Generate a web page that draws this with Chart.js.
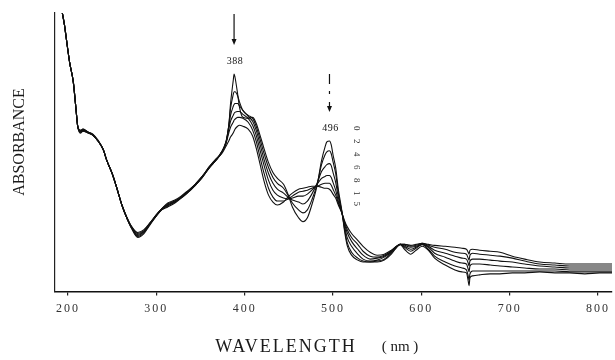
<!DOCTYPE html>
<html>
<head>
<meta charset="utf-8">
<script src="https://cdn.jsdelivr.net/npm/chart.js@4.4.1/dist/chart.umd.min.js"></script>
<style>
  html, body { margin: 0; padding: 0; background: #fff; }
  #wrap { width: 615px; height: 360px; }
</style>
</head>
<body>
<div id="wrap"><canvas id="spectrum" width="615" height="360"></canvas></div>
<script>
// Wavelength grid (nm) shared by every trace
const wavelength = [193,196,199,202,206,209,211,214,217,223,228,234,240,244,250,255,261,267,272,279,286,293,300,306,313,321,328,335,344,352,360,368,
  374,379,382,384,387,388,389,392,394,398,404,409,413,417,422,427,432,437,444,449,454,461,466,471,476,482,487,491,493,496,498,500,503,506,510,513,516,521,528,534,542,550,558,566,572,576,581,588,594,601,608,615,627,638,646,651,653,654,655,658,666,678,689,703,717,734,751,768,785,802,816];

// Absorbance traces, one per reaction time
const abs0 = [2.86,2.71,2.51,2.32,2.13,1.86,1.68,1.61,1.63,1.61,1.59,1.53,1.44,1.33,1.20,1.06,0.88,0.74,0.64,0.55,0.59,0.68,0.77,0.83,0.86,0.90,0.95,1.00,1.08,1.16,1.26,1.34,
  1.42,1.51,1.68,1.91,2.14,2.21,2.18,2.01,1.88,1.77,1.76,1.77,1.71,1.60,1.45,1.31,1.21,1.15,1.09,0.99,0.86,0.75,0.71,0.75,0.88,1.08,1.33,1.47,1.52,1.53,1.49,1.39,1.26,1.04,0.82,0.62,0.47,0.37,0.32,0.30,0.30,0.30,0.32,0.38,0.45,0.48,0.43,0.38,0.42,0.46,0.42,0.34,0.27,0.22,0.20,0.19,0.11,0.06,0.14,0.16,0.17,0.18,0.18,0.19,0.19,0.20,0.19,0.19,0.18,0.19,0.19];
const abs2 = [2.86,2.71,2.51,2.32,2.13,1.86,1.68,1.62,1.63,1.61,1.59,1.53,1.44,1.33,1.20,1.06,0.88,0.74,0.65,0.56,0.60,0.69,0.77,0.83,0.87,0.91,0.95,1.00,1.08,1.16,1.26,1.34,
  1.42,1.52,1.69,1.86,2.00,2.03,2.03,1.99,1.93,1.84,1.79,1.76,1.68,1.56,1.40,1.26,1.16,1.10,1.05,0.98,0.90,0.83,0.80,0.83,0.93,1.09,1.29,1.39,1.42,1.43,1.40,1.32,1.20,1.00,0.81,0.64,0.50,0.40,0.34,0.31,0.30,0.31,0.33,0.39,0.45,0.48,0.45,0.41,0.44,0.48,0.43,0.36,0.30,0.26,0.24,0.22,0.16,0.12,0.18,0.21,0.21,0.21,0.21,0.21,0.21,0.21,0.21,0.20,0.20,0.20,0.20];
const abs4 = [2.86,2.71,2.51,2.32,2.13,1.86,1.68,1.62,1.64,1.61,1.59,1.53,1.44,1.33,1.20,1.06,0.88,0.74,0.65,0.57,0.61,0.69,0.77,0.83,0.88,0.91,0.96,1.01,1.08,1.16,1.26,1.34,
  1.42,1.53,1.68,1.79,1.88,1.90,1.91,1.91,1.89,1.84,1.78,1.73,1.64,1.51,1.34,1.20,1.10,1.04,1.00,0.96,0.93,0.91,0.89,0.92,0.99,1.10,1.22,1.27,1.29,1.30,1.28,1.21,1.11,0.96,0.81,0.67,0.55,0.46,0.38,0.33,0.31,0.32,0.35,0.40,0.46,0.48,0.46,0.43,0.45,0.48,0.45,0.39,0.35,0.31,0.29,0.28,0.23,0.20,0.26,0.28,0.28,0.27,0.26,0.25,0.24,0.23,0.23,0.22,0.22,0.22,0.22];
const abs6 = [2.86,2.71,2.51,2.32,2.13,1.86,1.68,1.63,1.64,1.62,1.59,1.53,1.44,1.33,1.20,1.06,0.88,0.74,0.65,0.58,0.61,0.69,0.78,0.84,0.88,0.92,0.96,1.01,1.09,1.17,1.26,1.34,
  1.41,1.52,1.65,1.73,1.79,1.81,1.82,1.83,1.83,1.80,1.76,1.69,1.59,1.45,1.28,1.13,1.03,0.98,0.95,0.94,0.95,0.97,0.97,0.99,1.03,1.09,1.15,1.17,1.18,1.18,1.16,1.11,1.03,0.92,0.80,0.69,0.60,0.51,0.43,0.37,0.33,0.34,0.36,0.41,0.46,0.48,0.47,0.45,0.46,0.48,0.46,0.42,0.39,0.36,0.34,0.33,0.29,0.26,0.31,0.33,0.33,0.32,0.31,0.30,0.28,0.26,0.25,0.24,0.24,0.24,0.24];
const abs8 = [2.86,2.71,2.51,2.32,2.13,1.86,1.68,1.63,1.65,1.62,1.60,1.53,1.44,1.33,1.20,1.06,0.88,0.74,0.66,0.59,0.62,0.70,0.78,0.84,0.89,0.92,0.96,1.01,1.09,1.17,1.27,1.35,
  1.41,1.51,1.61,1.67,1.72,1.74,1.75,1.77,1.77,1.76,1.72,1.64,1.53,1.38,1.20,1.05,0.96,0.92,0.92,0.94,0.97,1.01,1.02,1.03,1.05,1.07,1.09,1.10,1.10,1.10,1.08,1.04,0.98,0.90,0.80,0.71,0.63,0.55,0.48,0.41,0.36,0.35,0.37,0.41,0.46,0.48,0.48,0.46,0.47,0.49,0.47,0.45,0.43,0.40,0.39,0.38,0.34,0.32,0.37,0.39,0.38,0.37,0.36,0.34,0.31,0.28,0.27,0.26,0.26,0.26,0.26];
const abs15 = [2.86,2.71,2.51,2.32,2.13,1.86,1.68,1.64,1.65,1.62,1.60,1.54,1.44,1.33,1.20,1.06,0.88,0.75,0.66,0.60,0.63,0.70,0.78,0.84,0.90,0.93,0.97,1.02,1.09,1.17,1.27,1.35,
  1.40,1.48,1.53,1.57,1.61,1.63,1.65,1.68,1.69,1.68,1.65,1.58,1.46,1.31,1.12,0.98,0.91,0.88,0.91,0.96,1.00,1.04,1.05,1.06,1.07,1.07,1.06,1.05,1.05,1.04,1.02,0.99,0.95,0.88,0.80,0.72,0.66,0.59,0.52,0.46,0.40,0.37,0.38,0.42,0.46,0.48,0.48,0.47,0.48,0.49,0.48,0.47,0.46,0.45,0.44,0.43,0.40,0.38,0.42,0.43,0.42,0.41,0.40,0.36,0.33,0.30,0.29,0.28,0.28,0.28,0.28];

const timeLabels = ['0', '2', '4', '6', '8', '15'];
const tickWavelengths = [200, 300, 400, 500, 600, 700, 800];
const peakWavelengths = [388, 496];

const traces = [abs0, abs2, abs4, abs6, abs8, abs15];
const SERIF = '"Liberation Serif", "DejaVu Serif", serif';

function arrowDown(ctx, x, yStart, yTip, dash) {
  ctx.lineWidth = 1.2;
  ctx.setLineDash(dash);
  ctx.beginPath();
  ctx.moveTo(x, yStart);
  ctx.lineTo(x, yTip - 5);
  ctx.stroke();
  ctx.setLineDash([]);
  ctx.beginPath();
  ctx.moveTo(x - 2.5, yTip - 6);
  ctx.lineTo(x + 2.5, yTip - 6);
  ctx.lineTo(x, yTip);
  ctx.closePath();
  ctx.fill();
}

const spectrumText = {
  id: 'spectrumText',
  beforeDraw(chart) {
    // wide spacing for the tick numbers
    chart.ctx.letterSpacing = '2px';
  },
  afterDraw(chart) {
    const ctx = chart.ctx;
    const xs = chart.scales.x, ys = chart.scales.y;
    const area = chart.chartArea;
    ctx.save();
    ctx.letterSpacing = '0px';
    ctx.fillStyle = '#111';
    ctx.strokeStyle = '#111';

    // peak markers: arrow + wavelength above the tallest trace at that wavelength
    peakWavelengths.forEach((w, k) => {
      const idx = wavelength.indexOf(w);
      const top = Math.max(...traces.map(t => t[idx]));
      const x = xs.getPixelForValue(w);
      const yPeak = ys.getPixelForValue(top);
      const yLabel = yPeak - 13;
      const yTip = yLabel - 16;
      if (k === 0) {
        arrowDown(ctx, x, area.top + 1, yTip, []);
      } else {
        arrowDown(ctx, x, yTip - 38, yTip, [10, 7, 3, 8]);
      }
      ctx.font = '10px ' + SERIF;
      ctx.letterSpacing = '0.5px';
      ctx.textAlign = 'center';
      ctx.textBaseline = 'middle';
      ctx.fillText(String(w), x + 1, yLabel);
      ctx.letterSpacing = '0px';
    });

    // reaction-time list, written downward beside the second band
    const xList = xs.getPixelForValue(peakWavelengths[1]) + 27;
    ctx.font = '9px ' + SERIF;
    ctx.fillStyle = '#333';
    let yItem = 126;
    timeLabels.forEach(lbl => {
      ctx.save();
      ctx.translate(xList, yItem);
      ctx.rotate(Math.PI / 2);
      ctx.textAlign = 'left';
      ctx.textBaseline = 'middle';
      ctx.letterSpacing = lbl.length > 1 ? '6px' : '0px';
      ctx.fillText(lbl, 0, 0);
      ctx.restore();
      yItem += 13;
    });

    // axis titles
    ctx.fillStyle = '#1a1a1a';
    ctx.save();
    ctx.translate(20, 142);
    ctx.rotate(-Math.PI / 2);
    ctx.font = '16px ' + SERIF;
    ctx.letterSpacing = '0px';
    ctx.textAlign = 'center';
    ctx.textBaseline = 'middle';
    ctx.fillText('ABSORBANCE', 0, 0);
    ctx.restore();

    ctx.font = '18px ' + SERIF;
    ctx.letterSpacing = '2px';
    ctx.textAlign = 'center';
    ctx.textBaseline = 'middle';
    ctx.fillText('WAVELENGTH', 286, 347);
    ctx.font = '15px ' + SERIF;
    ctx.letterSpacing = '0px';
    ctx.fillText('( nm )', 400, 347);
    ctx.restore();
  }
};

new Chart(document.getElementById('spectrum'), {
  type: 'line',
  data: {
    datasets: traces.map((vals, i) => ({
      label: timeLabels[i],
      data: wavelength.map((w, j) => ({ x: w, y: vals[j] })),
      borderColor: '#111',
      borderWidth: 1.1,
      pointRadius: 0,
      cubicInterpolationMode: 'monotone',
      fill: false
    }))
  },
  options: {
    responsive: false,
    animation: false,
    devicePixelRatio: 1,
    layout: { padding: { left: 55, right: 3, top: 13, bottom: 38 } },
    plugins: { legend: { display: false }, tooltip: { enabled: false } },
    scales: {
      x: {
        type: 'linear',
        min: 185.3,
        max: 815.8,
        afterBuildTicks: scale => { scale.ticks = tickWavelengths.map(v => ({ value: v })); },
        ticks: { font: { family: SERIF, size: 12 }, color: '#333', padding: 6, maxRotation: 0, autoSkip: false },
        grid: { drawOnChartArea: false, drawTicks: true, tickLength: 4, color: '#222', lineWidth: 1.2 },
        border: { display: true, color: '#111', width: 1.5 }
      },
      y: {
        min: 0,
        max: 2.83,
        ticks: { display: false },
        grid: { display: false, drawTicks: false },
        border: { display: true, color: '#222', width: 1.2 }
      }
    }
  },
  plugins: [spectrumText]
});
</script>
</body>
</html>
